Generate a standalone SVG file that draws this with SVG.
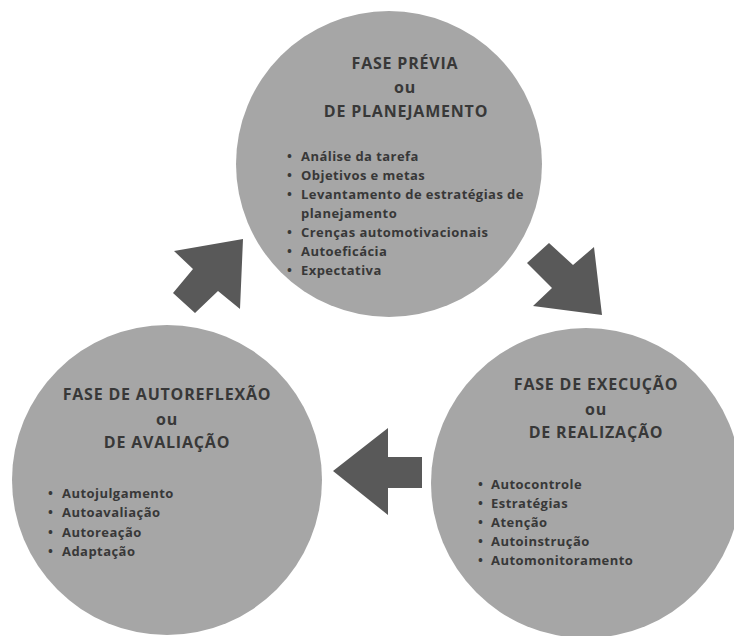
<svg xmlns="http://www.w3.org/2000/svg" width="734" height="636" viewBox="0 0 734 636">
<style>
.c{fill:#a6a6a6}
.a{fill:#595959}
text{font-family:"Open Sans","Liberation Sans",sans-serif;font-weight:bold;fill:#383838}
.t{font-size:16px;letter-spacing:0.8px;text-anchor:middle}
.b{font-size:13px;letter-spacing:0.45px}
</style>
<rect width="734" height="636" fill="#fff"/>
<g id="connectors">
<polygon class="a" points="243,239 174,251 193,269 173,293 195,313 218,291 240,309"/>
<polygon class="a" points="527,263 549,243 573,265 594,247 602,315 533,306 552,288"/>
<polygon class="a" points="333,471 388,428 388,457 422,457 422,488 388,488 388,515"/>
</g>
<g id="fase-previa">
<circle class="c" cx="389" cy="164" r="153"/>
<text class="t" x="405" y="69">FASE PRÉVIA</text>
<text class="t" x="405" y="93">ou</text>
<text class="t" x="406" y="117">DE PLANEJAMENTO</text>
<text class="b" x="287" y="161">•</text><text class="b" x="301" y="161">Análise da tarefa</text>
<text class="b" x="287" y="180">•</text><text class="b" x="301" y="180">Objetivos e metas</text>
<text class="b" x="287" y="199">•</text><text class="b" x="301" y="199">Levantamento de estratégias de</text>
<text class="b" x="301" y="218">planejamento</text>
<text class="b" x="287" y="237">•</text><text class="b" x="301" y="237">Crenças automotivacionais</text>
<text class="b" x="287" y="256">•</text><text class="b" x="301" y="256">Autoeficácia</text>
<text class="b" x="287" y="275">•</text><text class="b" x="301" y="275">Expectativa</text>
</g>
<g id="fase-execucao">
<circle class="c" cx="586" cy="483" r="155"/>
<text class="t" x="596" y="390">FASE DE EXECUÇÃO</text>
<text class="t" x="596" y="415">ou</text>
<text class="t" x="596" y="438">DE REALIZAÇÃO</text>
<text class="b" x="478" y="489">•</text><text class="b" x="491" y="489">Autocontrole</text>
<text class="b" x="478" y="508">•</text><text class="b" x="491" y="508">Estratégias</text>
<text class="b" x="478" y="527">•</text><text class="b" x="491" y="527">Atenção</text>
<text class="b" x="478" y="546">•</text><text class="b" x="491" y="546">Autoinstrução</text>
<text class="b" x="478" y="565">•</text><text class="b" x="491" y="565">Automonitoramento</text>
</g>
<g id="fase-autoreflexao">
<circle class="c" cx="167" cy="480" r="155"/>
<text class="t" x="167" y="400">FASE DE AUTOREFLEXÃO</text>
<text class="t" x="167" y="425">ou</text>
<text class="t" x="167" y="448">DE AVALIAÇÃO</text>
<text class="b" x="48" y="498">•</text><text class="b" x="62" y="498">Autojulgamento</text>
<text class="b" x="48" y="517">•</text><text class="b" x="62" y="517">Autoavaliação</text>
<text class="b" x="48" y="537">•</text><text class="b" x="62" y="537">Autoreação</text>
<text class="b" x="48" y="556">•</text><text class="b" x="62" y="556">Adaptação</text>
</g>
</svg>
